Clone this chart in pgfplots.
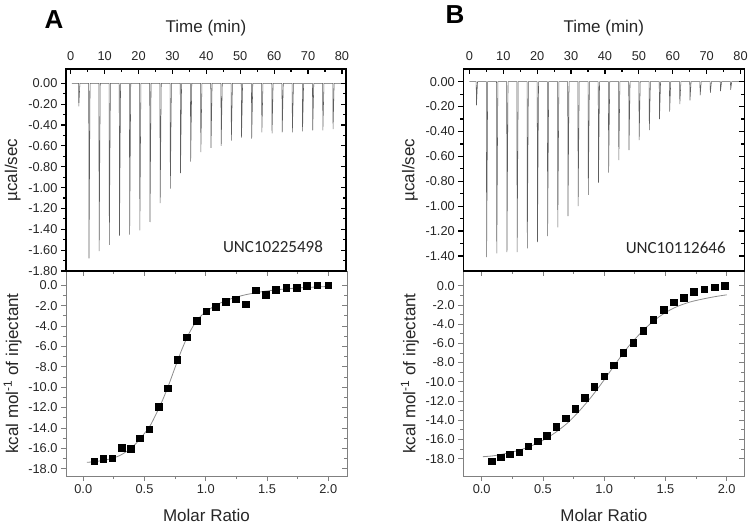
\documentclass[border=0pt]{standalone}
\usepackage{pgfplots}
\pgfplotsset{compat=1.18}
\usepackage{fontspec}
\setmainfont{Liberation Sans}
\newfontfamily\calibri{Carlito}
\definecolor{trace}{HTML}{5E5E5E}
\definecolor{framegray}{HTML}{808080}
\definecolor{fitgray}{HTML}{8C8C8C}
\definecolor{lbl}{HTML}{262626}

\pgfplotsset{
  base/.style={
    scale only axis, anchor=south west,
    /pgf/number format/assume math mode=true,
    tick label style={font=\fontsize{12.8}{15}\selectfont, text=lbl},
    label style={font=\fontsize{17}{20}\selectfont, text=lbl},
    major tick length=5pt, minor tick length=3pt,
  },
  thermo/.style={base,
    xtick={0,10,...,80}, minor x tick num=1, minor y tick num=1,
    axis line style={black, line width=1.6pt},
    tick style={black, line width=1.2pt},
    yticklabel style={/pgf/number format/.cd, fixed, fixed zerofill, precision=2},
  },
  thermo main/.style={thermo,
    xtick pos=right, xticklabel pos=right, xtick align=inside,
    ytick pos=left, ytick align=outside,
    xticklabel style={yshift=5pt},
    xlabel={Time (min)}, ylabel={µcal/sec},
    xlabel style={at={(axis description cs:0.5,1.2)}, anchor=center},
    ylabel style={at={(axis description cs:-0.19,0.5)}, anchor=center},
  },
  thermo over/.style={thermo, xtick=\empty, ytick pos=right, ytick align=inside, yticklabels={}},
  itc/.style={base,
    xtick={0,0.5,1,1.5,2}, minor x tick num=1,
    ytick={-18,-16,...,0}, minor y tick num=1,
    axis line style={framegray, line width=0.8pt},
    tick style={framegray, line width=0.8pt},
    xticklabel style={/pgf/number format/.cd, fixed, fixed zerofill, precision=1},
    yticklabel style={/pgf/number format/.cd, fixed, fixed zerofill, precision=1},
  },
  itc main/.style={itc, xtick pos=left, ytick pos=left, tick align=outside,
    xlabel={Molar Ratio}, ylabel={kcal mol\textsuperscript{-1} of injectant},
    xlabel style={at={(axis description cs:0.5,-0.19)}, anchor=center},
    ylabel style={at={(axis description cs:-0.19,0.5)}, anchor=center},
  },
  itc over/.style={itc, xtick pos=right, ytick pos=right, tick align=inside, xticklabels={}, yticklabels={}},
  geoAtop/.style={at={(66pt,254pt)}, width=280pt, height=202pt, xmin=-1.4, xmax=81.2, ymin=-1.8, ymax=0.1376,
    ytick={-1.8,-1.6,-1.4,-1.2,-1.0,-0.8,-0.6,-0.4,-0.2,0}},
  geoAbot/.style={at={(66pt,49pt)}, width=281pt, height=205pt, xmin=-0.141, xmax=2.153, ymin=-18.72, ymax=1.4},
  geoBtop/.style={at={(463.3pt,254pt)}, width=281pt, height=202pt, xmin=-1.8, xmax=81.1, ymin=-1.521, ymax=0.102,
    ytick={-1.4,-1.2,-1.0,-0.8,-0.6,-0.4,-0.2,0}},
  geoBbot/.style={at={(463.3pt,49pt)}, width=281pt, height=205pt, xmin=-0.15, xmax=2.144, ymin=-19.81, ymax=1.53},
}

\begin{document}
\begin{tikzpicture}
\path[use as bounding box] (0pt,0pt) rectangle (750pt,525pt);

% ---------------- Panel A bottom ----------------
\begin{axis}[itc main, geoAbot]
\addplot[fitgray, line width=0.8pt, smooth] coordinates {
(0.03,-17.38)(0.1,-17.3)(0.2,-17.1)(0.3,-16.7)(0.4,-15.9)(0.46,-15.1)(0.54,-13.9)(0.6,-12.5)(0.65,-11.2)(0.7,-9.7)(0.75,-8.05)(0.8,-6.45)(0.85,-5.05)(0.9,-3.95)(0.95,-3.15)(1.0,-2.6)(1.1,-1.85)(1.2,-1.35)(1.3,-1.0)(1.4,-0.75)(1.5,-0.56)(1.6,-0.42)(1.7,-0.31)(1.8,-0.23)(1.9,-0.17)(2.0,-0.12)};
\addplot[only marks, mark=square*, mark size=3.3pt, black] coordinates {
(0.090,-17.28)(0.163,-17.02)(0.237,-16.98)(0.313,-15.97)(0.386,-16.06)(0.463,-15.01)(0.539,-14.13)(0.615,-11.93)(0.691,-10.12)(0.767,-7.33)(0.846,-5.09)(0.925,-3.48)(1.004,-2.53)(1.083,-2.10)(1.162,-1.61)(1.244,-1.35)(1.328,-1.84)(1.410,-0.49)(1.488,-0.92)(1.573,-0.43)(1.657,-0.23)(1.741,-0.26)(1.826,-0.03)(1.910,0.0)(2.000,0.0)};
\end{axis}
\begin{axis}[itc over, geoAbot]
\end{axis}

% ---------------- Panel A top ----------------
\begin{axis}[thermo main, geoAtop]
\addplot[trace, line width=0.55pt] coordinates {
(0.3,0)
(2.3,0)(2.38,-0.22)(2.7,0)
(5.3,0)(5.38,-1.68)(5.7,0)
(8.3,0)(8.38,-1.61)(8.7,0)
(11.3,0)(11.38,-1.55)(11.7,0)
(14.3,0)(14.38,-1.46)(14.7,0)
(17.3,0)(17.38,-1.45)(17.7,0)
(20.3,0)(20.38,-1.41)(20.7,0)
(23.3,0)(23.38,-1.33)(23.7,0)
(26.3,0)(26.38,-1.15)(26.7,0)
(29.3,0)(29.38,-1.01)(29.7,0)
(32.3,0)(32.38,-0.86)(32.7,0)
(35.3,0)(35.38,-0.75)(35.7,0)
(38.3,0)(38.38,-0.66)(38.7,0)
(41.3,0)(41.38,-0.62)(41.7,0)
(44.3,0)(44.38,-0.60)(44.7,0)
(47.3,0)(47.38,-0.55)(47.7,0)
(50.3,0)(50.38,-0.52)(50.7,0)
(53.3,0)(53.38,-0.53)(53.7,0)
(56.3,0)(56.38,-0.47)(56.7,0)
(59.3,0)(59.38,-0.48)(59.7,0)
(62.3,0)(62.38,-0.47)(62.7,0)
(65.3,0)(65.38,-0.47)(65.7,0)
(68.3,0)(68.38,-0.46)(68.7,0)
(71.3,0)(71.38,-0.45)(71.7,0)
(74.3,0)(74.38,-0.45)(74.7,0)
(77.3,0)(77.38,-0.44)(77.7,0)
(80.3,0)};
\end{axis}
\begin{axis}[thermo over, geoAtop]
\end{axis}

% ---------------- Panel B bottom ----------------
\begin{axis}[itc main, geoBbot]
\addplot[fitgray, line width=0.8pt, smooth] coordinates {
(0.01,-17.8)(0.1,-17.7)(0.2,-17.45)(0.3,-17.15)(0.4,-16.7)(0.5,-16.1)(0.6,-15.3)(0.7,-14.3)(0.8,-13.0)(0.9,-11.5)(1.0,-9.8)(1.1,-8.0)(1.2,-6.3)(1.3,-4.9)(1.4,-3.7)(1.5,-2.8)(1.6,-2.15)(1.7,-1.7)(1.8,-1.4)(1.9,-1.15)(2.0,-0.95)};
\addplot[only marks, mark=square*, mark size=3.3pt, black] coordinates {
(0.082,-18.28)(0.155,-17.86)(0.231,-17.55)(0.305,-17.34)(0.381,-16.71)(0.457,-16.19)(0.533,-15.64)(0.607,-14.66)(0.686,-13.79)(0.762,-12.79)(0.841,-11.67)(0.920,-10.49)(0.999,-9.42)(1.078,-8.27)(1.156,-6.98)(1.238,-5.94)(1.320,-4.66)(1.401,-3.51)(1.486,-2.50)(1.567,-1.70)(1.649,-1.22)(1.733,-0.63)(1.818,-0.38)(1.902,-0.14)(1.986,0.03)};
\end{axis}
\begin{axis}[itc over, geoBbot]
\end{axis}

% ---------------- Panel B top ----------------
\begin{axis}[thermo main, geoBtop]
\addplot[trace, line width=0.55pt] coordinates {
(0.0,0)
(2.0,0)(2.08,-0.19)(2.4,0)
(5.0,0)(5.08,-1.41)(5.4,0)
(8.0,0)(8.08,-1.38)(8.4,0)
(11.0,0)(11.08,-1.37)(11.4,0)
(14.0,0)(14.08,-1.37)(14.4,0)
(17.0,0)(17.08,-1.34)(17.4,0)
(20.0,0)(20.08,-1.29)(20.4,0)
(23.0,0)(23.08,-1.24)(23.4,0)
(26.0,0)(26.08,-1.17)(26.4,0)
(29.0,0)(29.08,-1.08)(29.4,0)
(32.0,0)(32.08,-1.00)(32.4,0)
(35.0,0)(35.08,-0.91)(35.4,0)
(38.0,0)(38.08,-0.81)(38.4,0)
(41.0,0)(41.08,-0.73)(41.4,0)
(44.0,0)(44.08,-0.63)(44.4,0)
(47.0,0)(47.08,-0.55)(47.4,0)
(50.0,0)(50.08,-0.47)(50.4,0)
(53.0,0)(53.08,-0.39)(53.4,0)
(56.0,0)(56.08,-0.30)(56.4,0)
(59.0,0)(59.08,-0.24)(59.4,0)
(62.0,0)(62.08,-0.18)(62.4,0)
(65.0,0)(65.08,-0.15)(65.4,0)
(68.0,0)(68.08,-0.11)(68.4,0)
(71.0,0)(71.08,-0.09)(71.4,0)
(74.0,0)(74.08,-0.075)(74.4,0)
(77.0,0)(77.08,-0.065)(77.4,0)
(80.5,0)};
\end{axis}
\begin{axis}[thermo over, geoBtop]
\end{axis}

\node[font=\calibri\fontsize{17}{20}\selectfont, text=lbl] at (273pt,278.3pt) {UNC10225498};
\node[font=\calibri\fontsize{17}{20}\selectfont, text=lbl] at (675.7pt,277pt) {UNC10112646};
\node[font=\bfseries\fontsize{26}{30}\selectfont] at (54pt,505pt) {A};
\node[font=\bfseries\fontsize{26}{30}\selectfont] at (455pt,510pt) {B};
\end{tikzpicture}
\end{document}
